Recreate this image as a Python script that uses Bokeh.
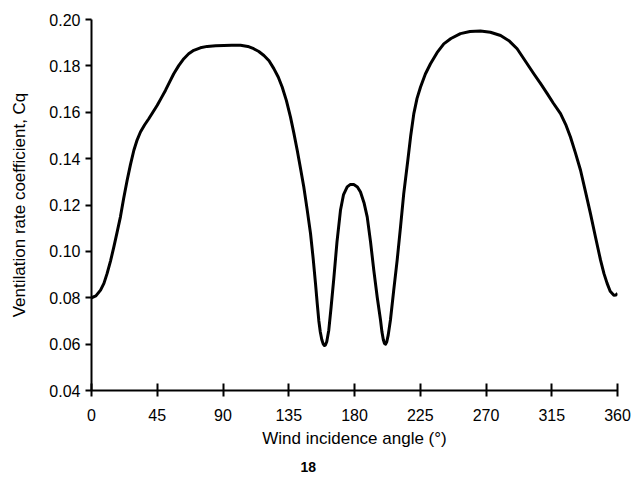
from bokeh.plotting import figure
from bokeh.models import Range1d, FixedTicker, NumeralTickFormatter, Title
from bokeh.embed import file_html
from bokeh.resources import INLINE

# Data
angle = [0, 3, 6.2, 8.5, 10.7, 13, 15.3, 17.5, 19.8, 22, 24.4, 26.7, 29, 31.2,
         33.5, 36.3, 39.2, 42, 45, 47.8, 50.6, 53.5, 56.3, 59.7, 63.2, 66.5,
         70, 74.5, 79.2, 85, 90.5, 96, 102, 107, 111, 114.5, 118, 121.5,
         124.8, 127.8, 130.5, 133.4, 136.2, 138.5, 140.8, 143, 145.3, 147.6,
         149.9, 151.7, 153.3, 154.5, 155.6, 156.6, 157.6, 158.5, 159.3, 160.1,
         161, 162.4, 164, 165.8, 168, 170.4, 172.5, 175, 177, 179.5, 182,
         184.1, 186.5, 188.7, 191, 193.2, 195.6, 197.8, 198.8, 199.7, 200.5,
         201.3, 202.1, 203.1, 204.6, 206.8, 209.2, 211.5, 213.7, 216.5, 218.5,
         220.6, 222.8, 225.2, 228.5, 232, 236.5, 241.1, 246, 252.5, 259,
         266.2, 273, 280, 286, 291.3, 297, 302.7, 307.5, 311.9, 316, 321,
         324.5, 327.8, 331.2, 334.7, 338, 341.5, 345, 348.4, 350.7, 352.9,
         355, 357.5, 359, 360]
cq = [0.0800, 0.0808, 0.0833, 0.0862, 0.0905, 0.0958, 0.1019, 0.1082, 0.1149,
      0.1228, 0.1307, 0.1375, 0.1436, 0.1480, 0.1515, 0.1545, 0.1572, 0.1600,
      0.1630, 0.1662, 0.1694, 0.1731, 0.1766, 0.1801, 0.1831, 0.1852, 0.1867,
      0.1878, 0.1884, 0.1887, 0.1888, 0.1889, 0.1889, 0.1884, 0.1874, 0.1862,
      0.1845, 0.1822, 0.1788, 0.1752, 0.1709, 0.1650, 0.1579, 0.1510, 0.1436,
      0.1360, 0.1278, 0.1180, 0.1077, 0.0970, 0.0862, 0.0775, 0.0700, 0.0652,
      0.0620, 0.0602, 0.0594, 0.0596, 0.0610, 0.0660, 0.0760, 0.0880, 0.1040,
      0.1177, 0.1245, 0.1278, 0.1288, 0.1288, 0.1278, 0.1256, 0.1210, 0.1149,
      0.1040, 0.0919, 0.0800, 0.0704, 0.0652, 0.0620, 0.0603, 0.0600, 0.0610,
      0.0640, 0.0704, 0.0830, 0.0962, 0.1106, 0.1249, 0.1393, 0.1500, 0.1594,
      0.1660, 0.1709, 0.1765, 0.1809, 0.1857, 0.1895, 0.1918, 0.1939, 0.1948,
      0.1950, 0.1945, 0.1931, 0.1907, 0.1874, 0.1820, 0.1766, 0.1722, 0.1680,
      0.1640, 0.1594, 0.1548, 0.1493, 0.1425, 0.1350, 0.1260, 0.1163, 0.1060,
      0.0962, 0.0905, 0.0862, 0.0828, 0.0811, 0.0812, 0.0819]
x_ticks = [0, 45, 90, 135, 180, 225, 270, 315, 360]
y_ticks = [0.04, 0.06, 0.08, 0.10, 0.12, 0.14, 0.16, 0.18, 0.20]
page_number = "18"

FONT = "Liberation Sans"

p = figure(width=634, height=481, output_backend="svg", toolbar_location=None,
           x_range=Range1d(0, 360), y_range=Range1d(0.04, 0.20),
           min_border_left=91, min_border_right=17, min_border_top=19,
           min_border_bottom=90)
p.outline_line_color = None
p.xgrid.visible = False
p.ygrid.visible = False
p.background_fill_color = "white"
p.border_fill_color = "white"

p.line(angle, cq, line_color="black", line_width=3, line_join="round")

p.xaxis.ticker = FixedTicker(ticks=x_ticks)
p.yaxis.ticker = FixedTicker(ticks=y_ticks)
p.yaxis.formatter = NumeralTickFormatter(format="0.00")
for ax in (p.xaxis, p.yaxis):
    ax.axis_line_color = "black"
    ax.axis_line_width = 2
    ax.major_tick_line_color = "black"
    ax.major_tick_line_width = 2
    ax.minor_tick_line_color = None
    ax.major_label_text_font = FONT
    ax.major_label_text_font_size = "16px"
    ax.major_label_text_color = "black"
    ax.axis_label_text_font = FONT
    ax.axis_label_text_font_size = "17px"
    ax.axis_label_text_font_style = "normal"
    ax.axis_label_text_color = "black"

p.xaxis.major_tick_in = 7
p.xaxis.major_tick_out = 6
p.xaxis.major_label_standoff = 12
p.xaxis.axis_label = "Wind incidence angle (°)"
p.xaxis.axis_label_standoff = 5

p.yaxis.major_tick_in = 0
p.yaxis.major_tick_out = 6
p.yaxis.major_label_standoff = 5
p.yaxis.axis_label = "Ventilation rate coefficient, Cq"
p.yaxis.axis_label_standoff = 17

p.add_layout(Title(text=page_number, align="left", offset=209, standoff=19,
                   text_font=FONT, text_font_size="14px",
                   text_font_style="bold", text_color="black"), "below")

open("out.html", "w").write(file_html(p, INLINE))
